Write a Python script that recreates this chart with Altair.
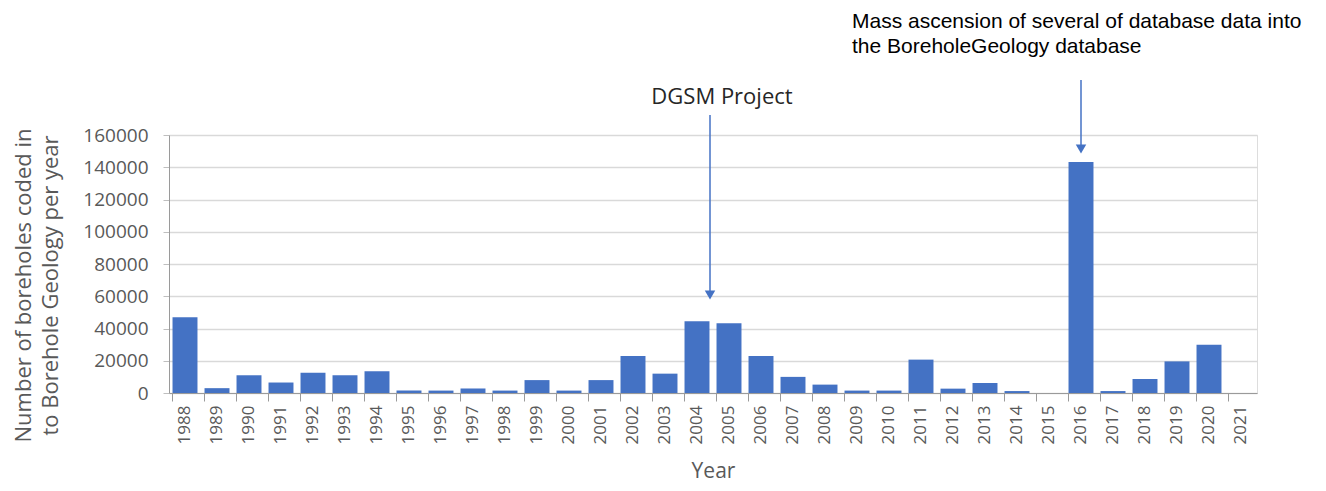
import altair as alt
import pandas as pd

years = [str(y) for y in range(1988, 2022)]
counts = [47000, 3000, 11000, 6500, 12500, 11000, 13500, 1500, 1500, 2800,
          1500, 8000, 1500, 8000, 23000, 12000, 44500, 43300, 23000, 10000,
          5200, 1500, 1500, 20700, 2700, 6200, 1200, 0, 143200, 1200,
          8700, 19600, 30000, 0]

ann_years = ["2004", "2016"]
ann_text = ["DGSM Project", "Mass ascension of several of database data into\nthe BoreholeGeology database"]

df = pd.DataFrame({"Year": years, "Count": counts})

FONT = "Open Sans"
GRAY = "#595959"

x_enc = alt.X("Year:N", sort=years, title="Year",
              scale=alt.Scale(paddingInner=0.22, paddingOuter=0.11),
              axis=alt.Axis(labelAngle=270, labelFont=FONT, labelFontSize=17, labelColor=GRAY,
                            labelPadding=4, tickSize=8, tickColor="#9a9a9a", domainColor="#9a9a9a",
                            bandPosition=0, grid=False, titleFont=FONT, titleFontSize=21,
                            titleColor=GRAY, titleFontWeight="normal", titlePadding=17))

bars = alt.Chart(df).mark_bar(color="#4472C4").encode(
    x=x_enc,
    y=alt.Y("Count:Q", scale=alt.Scale(domain=[0, 160000], nice=False),
            title=["Number  of boreholes coded in", "to Borehole Geology per year"],
            axis=alt.Axis(values=list(range(0, 160001, 20000)), format="d", labelFont=FONT,
                          labelFontSize=19, labelColor=GRAY, labelPadding=15, tickSize=6,
                          tickColor="#bfbfbf", domainColor="#9a9a9a", gridColor="#d9d9d9",
                          gridWidth=1.5, titleFont=FONT, titleFontSize=22, titleColor=GRAY,
                          titleFontWeight="normal", titleX=-146, titleY=150, titleBaseline="middle",
                          titleLineHeight=27))
)

a1 = pd.DataFrame({"Year": [ann_years[0]], "label": [ann_text[0]]})
a2 = pd.DataFrame({"Year": [ann_years[1]], "label": [ann_text[1]]})

rule1 = alt.Chart(a1).mark_rule(color="#4472C4", strokeWidth=1.5).encode(
    x=alt.value(541), y=alt.value(-20), y2=alt.value(160))
tri1 = alt.Chart(a1).mark_point(shape="triangle-down", filled=True, color="#4472C4", size=110, opacity=1).encode(
    x=alt.value(541), y=alt.value(160))
txt1 = alt.Chart(a1).mark_text(font=FONT, fontSize=22, color="#262626", align="center", baseline="middle").encode(
    x=alt.value(553), y=alt.value(-38), text="label:N")

rule2 = alt.Chart(a2).mark_rule(color="#4472C4", strokeWidth=1.5).encode(
    x=alt.X("Year:N", sort=years), y=alt.value(-55), y2=alt.value(14))
tri2 = alt.Chart(a2).mark_point(shape="triangle-down", filled=True, color="#4472C4", size=110, opacity=1).encode(
    x=alt.X("Year:N", sort=years), y=alt.value(14))
txt2 = alt.Chart(a2).mark_text(font="Liberation Sans", fontSize=21, color="#000000", align="left",
                               baseline="middle", lineBreak="\n", lineHeight=25).encode(
    x=alt.value(683), y=alt.value(-113), text="label:N")

chart = alt.layer(bars, rule1, tri1, txt1, rule2, tri2, txt2).properties(
    width=1088, height=258,
    autosize=alt.AutoSizeParams(type="none"),
    padding={"left": 161, "top": 127, "right": 61, "bottom": 90},
).configure_view(stroke=None).configure(background="white")

chart.save("out.html", embed_options={"renderer": "svg", "actions": False})
